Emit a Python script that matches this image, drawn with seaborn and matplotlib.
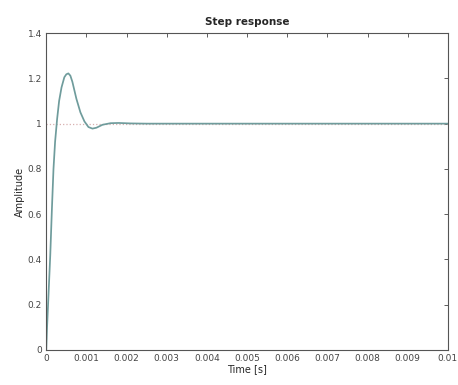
import matplotlib
matplotlib.use("Agg")
import matplotlib.pyplot as plt
import seaborn as sns
import pandas as pd

# Step response
time_s = [0, 0.00002, 0.00005, 0.0001, 0.00014, 0.00018, 0.00022, 0.00027, 0.00032,
          0.00038, 0.00045, 0.0005, 0.00055, 0.0006, 0.00065, 0.00075, 0.00085,
          0.00095, 0.00105, 0.00115, 0.00125, 0.0014, 0.0016, 0.0018, 0.0021,
          0.0025, 0.004, 0.006, 0.008, 0.01]
amplitude = [0, 0.1, 0.22, 0.42, 0.62, 0.8, 0.92, 1.02, 1.1,
             1.16, 1.205, 1.218, 1.222, 1.212, 1.185, 1.11, 1.05,
             1.01, 0.985, 0.978, 0.982, 0.995, 1.002, 1.003, 1.001,
             1.0, 1.0, 1.0, 1.0, 1.0]

x_ticks = [0, 0.001, 0.002, 0.003, 0.004, 0.005, 0.006, 0.007, 0.008, 0.009, 0.01]
x_labels = ["0", "0.001", "0.002", "0.003", "0.004", "0.005", "0.006", "0.007", "0.008", "0.009", "0.01"]
y_ticks = [0, 0.2, 0.4, 0.6, 0.8, 1.0, 1.2, 1.4]
y_labels = ["0", "0.2", "0.4", "0.6", "0.8", "1", "1.2", "1.4"]
steady_state = [1.0]

sns.set_style("white")
plt.rcParams['font.family'] = ['DejaVu Sans']

df = pd.DataFrame({"Time [s]": time_s, "Amplitude": amplitude})

fig = plt.figure(figsize=(4.58, 3.85), dpi=100)
ax = fig.add_axes([0.101, 0.091, 0.877, 0.823])

ax.axhline(steady_state[0], color="#d8b0b0", linestyle=":", linewidth=0.9, zorder=1)
sns.lineplot(data=df, x="Time [s]", y="Amplitude", ax=ax, color="#6f9c9c", linewidth=1.25, zorder=2)

ax.set_xlim(0, 0.01)
ax.set_ylim(0, 1.4)
ax.set_xticks(x_ticks)
ax.set_xticklabels(x_labels)
ax.set_yticks(y_ticks)
ax.set_yticklabels(y_labels)
ax.tick_params(direction="in", top=True, right=True, length=3, width=0.6,
               labelsize=6.5, colors="#444444", pad=3)
for s in ax.spines.values():
    s.set_visible(True)
    s.set_color("#555555")
    s.set_linewidth(0.8)

ax.set_title("Step response", fontsize=7.5, fontweight="bold", pad=6)
ax.set_xlabel("Time [s]", fontsize=7, labelpad=1)
ax.set_ylabel("Amplitude", fontsize=7, labelpad=2)

fig.savefig("out.png", dpi=100, facecolor="white")
